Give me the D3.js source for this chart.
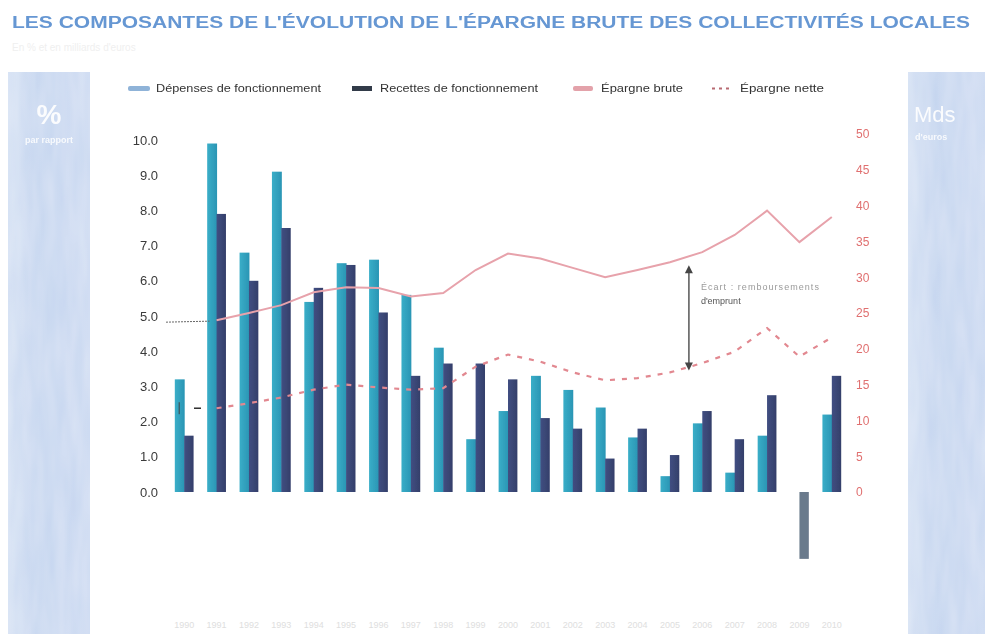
<!DOCTYPE html>
<html>
<head>
<meta charset="utf-8">
<script src="https://cdn.jsdelivr.net/npm/d3@7/dist/d3.min.js"></script>
<style>
  html, body { margin: 0; padding: 0; background: #fff; }
  svg { display: block; }
</style>
</head>
<body>
<script>
// Years on the horizontal axis
const years = d3.range(1990, 2011).map(String);
// Annual change (%) – operating expenditure and operating revenue
const depenses = [3.2, 9.9, 6.8, 9.1, 5.4, 6.5, 6.6, 5.6, 4.1, 1.5, 2.3, 3.3, 2.9, 2.4, 1.55, 0.45, 1.95, 0.55, 1.6, 0.0, 2.2];
const recettes = [1.6, 7.9, 6.0, 7.5, 5.8, 6.45, 5.1, 3.3, 3.65, 3.65, 3.2, 2.1, 1.8, 0.95, 1.8, 1.05, 2.3, 1.5, 2.75, -1.9, 3.3];
// Gross and net savings, billions (right axis)
const epargneBrute = [null, 24.0, 25.0, 26.1, 27.9, 28.6, 28.5, 27.3, 27.8, 31.0, 33.3, 32.6, 31.3, 30.0, 31.0, 32.1, 33.5, 35.9, 39.3, 34.9, 38.4];
const epargneNette = [null, 11.7, 12.4, 13.2, 14.3, 15.0, 14.6, 14.3, 14.5, 17.5, 19.2, 18.2, 16.7, 15.6, 15.9, 16.7, 18.0, 19.6, 22.9, 18.9, 21.6];
// Tick labels
const leftTicks = [0, 1, 2, 3, 4, 5, 6, 7, 8, 9, 10];
const rightTicks = [0, 5, 10, 15, 20, 25, 30, 35, 40, 45, 50];
const legendLabels = ["Dépenses de fonctionnement", "Recettes de fonctionnement", "Épargne brute", "Épargne nette"];

const W = 985, H = 634;
const svg = d3.select("body").append("svg").attr("width", W).attr("height", H);
const defs = svg.append("defs");

// soft look of the printed page
const soft = defs.append("filter").attr("id", "soft").attr("x", "-5%").attr("y", "-5%").attr("width", "110%").attr("height", "110%");
soft.append("feGaussianBlur").attr("stdDeviation", 0.6);

// side panel texture
const panelGrad = defs.append("linearGradient").attr("id", "panel").attr("x1", 0).attr("x2", 1).attr("y1", 0).attr("y2", 0);
panelGrad.append("stop").attr("offset", "0%").attr("stop-color", "#d2dff3");
panelGrad.append("stop").attr("offset", "35%").attr("stop-color", "#c3d4ef");
panelGrad.append("stop").attr("offset", "100%").attr("stop-color", "#c9d8f1");
const noise = defs.append("filter").attr("id", "grain");
noise.append("feTurbulence").attr("type", "fractalNoise").attr("baseFrequency", "0.09 0.015").attr("numOctaves", 2).attr("seed", 5).attr("result", "n");
noise.append("feColorMatrix").attr("in", "n").attr("type", "matrix")
  .attr("values", "0 0 0 0 1  0 0 0 0 1  0 0 0 0 1  0 0 0 0.3 0").attr("result", "w");
noise.append("feComposite").attr("in", "w").attr("in2", "SourceGraphic").attr("operator", "in").attr("result", "wc");
noise.append("feMerge").selectAll("feMergeNode").data(["SourceGraphic", "wc"]).join("feMergeNode").attr("in", d => d);

// bar gradients
const tealGrad = defs.append("linearGradient").attr("id", "teal").attr("x1", 0).attr("x2", 1);
tealGrad.append("stop").attr("offset", "0%").attr("stop-color", "#3aaec8");
tealGrad.append("stop").attr("offset", "100%").attr("stop-color", "#2a95b4");
const navyGrad = defs.append("linearGradient").attr("id", "navy").attr("x1", 0).attr("x2", 1);
navyGrad.append("stop").attr("offset", "0%").attr("stop-color", "#414f82");
navyGrad.append("stop").attr("offset", "100%").attr("stop-color", "#343f6a");

// Side panels
svg.append("rect").attr("x", 8).attr("y", 72).attr("width", 82).attr("height", H - 72)
  .attr("fill", "url(#panel)").attr("filter", "url(#grain)");
svg.append("rect").attr("x", 908).attr("y", 72).attr("width", 77).attr("height", H - 72)
  .attr("fill", "url(#panel)").attr("filter", "url(#grain)");
svg.append("text").attr("x", 49).attr("y", 124).attr("text-anchor", "middle")
  .attr("font-family", "Liberation Sans, Arial").attr("font-weight", "bold").attr("font-size", 28)
  .attr("fill", "#ffffff").attr("opacity", 0.92).text("%");
svg.append("text").attr("x", 49).attr("y", 143).attr("text-anchor", "middle")
  .attr("font-family", "Liberation Sans, Arial").attr("font-size", 9).attr("font-weight", "bold")
  .attr("fill", "#ffffff").attr("opacity", 0.85).text("par rapport");
svg.append("text").attr("x", 914).attr("y", 122)
  .attr("font-family", "Liberation Sans, Arial").attr("font-size", 22)
  .attr("fill", "#ffffff").attr("opacity", 0.92).text("Mds");
svg.append("text").attr("x", 915).attr("y", 140)
  .attr("font-family", "Liberation Sans, Arial").attr("font-size", 9).attr("font-weight", "bold")
  .attr("fill", "#ffffff").attr("opacity", 0.85).text("d'euros");

// Title
svg.append("text").attr("x", 12).attr("y", 28)
  .attr("font-family", "Liberation Sans, Arial").attr("font-weight", "bold").attr("font-size", 16)
  .attr("fill", "#6697d3").attr("textLength", 958).attr("lengthAdjust", "spacingAndGlyphs")
  .attr("filter", "url(#soft)")
  .text("LES COMPOSANTES DE L'ÉVOLUTION DE L'ÉPARGNE BRUTE DES COLLECTIVITÉS LOCALES");
svg.append("text").attr("x", 12).attr("y", 51)
  .attr("font-family", "Liberation Sans, Arial").attr("font-size", 10)
  .attr("fill", "#efefef").text("En % et en milliards d'euros");

// Scales
const x = d3.scaleBand().domain(years).range([168, 848]).paddingInner(0.42).paddingOuter(0.21);
const yL = d3.scaleLinear().domain([0, 10]).range([492, 140]);
const yR = d3.scaleLinear().domain([0, 50]).range([492, 134]);
const bw = x.bandwidth() / 2;

const chart = svg.append("g").attr("filter", "url(#soft)");

// Bars
chart.append("g").selectAll("rect").data(years).join("rect")
  .attr("x", d => x(d))
  .attr("y", (d, i) => yL(Math.max(0, depenses[i])))
  .attr("width", bw + 0.5)
  .attr("height", (d, i) => Math.abs(yL(depenses[i]) - yL(0)))
  .attr("fill", "url(#teal)");
chart.append("g").selectAll("rect").data(years).join("rect")
  .attr("x", d => x(d) + bw)
  .attr("y", (d, i) => yL(Math.max(0, recettes[i])))
  .attr("width", bw)
  .attr("height", (d, i) => Math.abs(yL(recettes[i]) - yL(0)))
  .attr("fill", (d, i) => recettes[i] < 0 ? "#6b7a8c" : "url(#navy)");

// Lines
const cx = d => x(d) + x.bandwidth() / 2;
const line = vals => d3.line()
  .defined((d, i) => vals[i] !== null)
  .x(d => cx(d))
  .y((d, i) => yR(vals[i]))(years);
chart.append("path").attr("d", line(epargneBrute))
  .attr("fill", "none").attr("stroke", "#e7a2ab").attr("stroke-width", 2);
chart.append("path").attr("d", line(epargneNette))
  .attr("fill", "none").attr("stroke", "#e28890").attr("stroke-width", 2.2)
  .attr("stroke-dasharray", "5,7");

// Small leader marks on the left of the lines
const leadB = yR(epargneBrute[1]), leadN = yR(epargneNette[1]);
chart.append("line").attr("x1", 166).attr("x2", cx(years[1]) - 7).attr("y1", leadB + 2).attr("y2", leadB + 1)
  .attr("stroke", "#666").attr("stroke-width", 1).attr("stroke-dasharray", "2,1");
chart.append("path").attr("d", `M${cx(years[0]) - 5},${leadN - 6}v12`).attr("stroke", "#444").attr("fill", "none");
chart.append("line").attr("x1", 194).attr("x2", 201).attr("y1", leadN).attr("y2", leadN)
  .attr("stroke", "#333").attr("stroke-width", 1.5);

// Annotation: gap between gross and net savings
const ax = cx(years[15]) + 19;
const aTop = yR(epargneBrute[15]) + 3, aBot = yR(epargneNette[15]) - 2;
const ann = chart.append("g");
ann.append("line").attr("x1", ax).attr("x2", ax).attr("y1", aTop + 6).attr("y2", aBot - 6)
  .attr("stroke", "#555").attr("stroke-width", 1.5);
ann.append("path").attr("d", `M${ax - 4},${aTop + 8}L${ax},${aTop}L${ax + 4},${aTop + 8}Z`).attr("fill", "#444");
ann.append("path").attr("d", `M${ax - 4},${aBot - 8}L${ax},${aBot}L${ax + 4},${aBot - 8}Z`).attr("fill", "#444");
ann.append("text").attr("x", ax + 12).attr("y", 290)
  .attr("font-family", "Liberation Sans, Arial").attr("font-size", 9).attr("fill", "#9a9a9a")
  .attr("textLength", 118).attr("lengthAdjust", "spacing")
  .text("Écart : remboursements");
ann.append("text").attr("x", ax + 12).attr("y", 304)
  .attr("font-family", "Liberation Sans, Arial").attr("font-size", 9).attr("fill", "#555")
  .text("d'emprunt");

// Axes (labels only)
const leftAxis = d3.axisLeft(yL).tickValues(leftTicks).tickFormat(d3.format(".1f")).tickSize(0).tickPadding(0);
const gl = svg.append("g").attr("transform", "translate(158,0)").attr("filter", "url(#soft)").call(leftAxis);
gl.select(".domain").remove();
gl.selectAll("text").attr("font-family", "Liberation Sans Narrow, Liberation Sans, Arial").attr("font-size", 13)
  .attr("fill", "#3a3a3a");

const rightAxis = d3.axisRight(yR).tickValues(rightTicks).tickFormat(d3.format("d")).tickSize(0).tickPadding(0);
const gr = svg.append("g").attr("transform", "translate(856,0)").attr("filter", "url(#soft)").call(rightAxis);
gr.select(".domain").remove();
gr.selectAll("text").attr("font-family", "Liberation Sans Narrow, Liberation Sans, Arial").attr("font-size", 12)
  .attr("fill", "#e07070");

// Year labels, faint
svg.append("g").selectAll("text").data(years).join("text")
  .attr("x", d => cx(d)).attr("y", 628).attr("text-anchor", "middle")
  .attr("font-family", "Liberation Sans, Arial").attr("font-size", 9).attr("fill", "#dedede")
  .text(d => d);

// Legend
const legend = svg.append("g").attr("filter", "url(#soft)")
  .attr("font-family", "Liberation Sans Narrow, Liberation Sans, Arial").attr("font-size", 10.5).attr("fill", "#333");
const legX = [128, 352, 573, 712];
const legLen = [165, 158, 82, 84];
legend.append("rect").attr("x", legX[0]).attr("y", 86).attr("width", 22).attr("height", 5).attr("rx", 2).attr("fill", "#8fb3d8");
legend.append("rect").attr("x", legX[1]).attr("y", 86).attr("width", 20).attr("height", 5).attr("fill", "#333a4a");
legend.append("rect").attr("x", legX[2]).attr("y", 86).attr("width", 20).attr("height", 5).attr("rx", 2).attr("fill", "#e3a2aa");
legend.append("line").attr("x1", legX[3]).attr("x2", legX[3] + 20).attr("y1", 88.5).attr("y2", 88.5)
  .attr("stroke", "#b86a72").attr("stroke-width", 2).attr("stroke-dasharray", "3,4");
legendLabels.forEach((t, i) => {
  legend.append("text").attr("x", legX[i] + 28).attr("y", 92)
    .attr("textLength", legLen[i]).attr("lengthAdjust", "spacingAndGlyphs").text(t);
});
</script>
</body>
</html>
